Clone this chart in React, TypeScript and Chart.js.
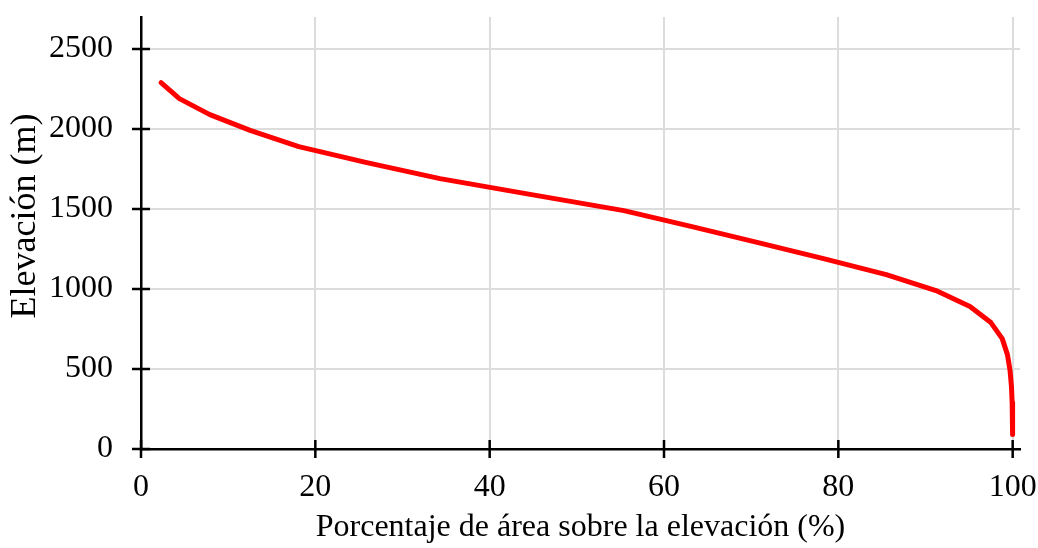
import React, { useEffect, useRef } from "react";
import { Chart, registerables } from "chart.js";

Chart.register(...registerables);

const areaPercent = [2.3, 4.4, 7.9, 12.6, 18.1, 25.9, 34.3, 44.8, 55.4, 63.2, 70.8, 78.3, 85.5, 91.2, 95.1, 97.5, 98.8, 99.4, 99.7, 99.86, 99.94, 99.98, 100];
const elevation = [2290, 2190, 2090, 1990, 1890, 1790, 1690, 1590, 1490, 1390, 1290, 1190, 1090, 990, 890, 790, 690, 590, 490, 390, 290, 190, 90];
const xTicks = [0, 20, 40, 60, 80, 100];
const yTicks = [0, 500, 1000, 1500, 2000, 2500];
const xTitle = "Porcentaje de área sobre la elevación (%)";
const yTitle = "Elevación (m)";

const FONT = "'Liberation Serif', 'Times New Roman', serif";

const crossTicks = {
  id: "crossTicks",
  afterDraw(chart: any) {
    const ctx = chart.ctx;
    const xs = chart.scales.x;
    const ys = chart.scales.y;
    const area = chart.chartArea;
    ctx.save();
    ctx.strokeStyle = "#000";
    ctx.lineWidth = 2.5;
    ctx.beginPath();
    xTicks.forEach((v) => {
      const px = xs.getPixelForValue(v);
      ctx.moveTo(px, area.bottom - 9);
      ctx.lineTo(px, area.bottom + 9);
    });
    yTicks.forEach((v) => {
      const py = ys.getPixelForValue(v);
      ctx.moveTo(area.left - 9, py);
      ctx.lineTo(area.left + 9, py);
    });
    ctx.stroke();
    // y axis title
    ctx.translate(26, 216);
    ctx.rotate(-Math.PI / 2);
    ctx.fillStyle = "#000";
    ctx.font = "36px " + FONT;
    ctx.textAlign = "center";
    ctx.textBaseline = "middle";
    ctx.fillText(yTitle, 0, 0);
    ctx.restore();
  },
};

export default function App() {
  const ref = useRef<HTMLCanvasElement>(null);
  useEffect(() => {
    if (!ref.current) return;
    const data = areaPercent.map((x, i) => ({ x, y: elevation[i] }));
    const chart = new Chart(ref.current, {
      type: "line",
      data: {
        datasets: [
          {
            data,
            borderColor: "#ff0000",
            backgroundColor: "#ff0000",
            borderWidth: 5,
            borderCapStyle: "round",
            borderJoinStyle: "round",
            pointRadius: 0,
            tension: 0,
            fill: false,
          },
        ],
      },
      options: {
        animation: false,
        responsive: false,
        maintainAspectRatio: false,
        layout: { padding: { top: 17, right: 18, left: 0, bottom: 0 } },
        plugins: { legend: { display: false }, tooltip: { enabled: false } },
        scales: {
          x: {
            type: "linear",
            min: 0,
            max: 100.84,
            afterBuildTicks: (s: any) => {
              s.ticks = xTicks.map((v) => ({ value: v }));
            },
            afterFit: (s: any) => {
              s.height = 99;
              s.paddingLeft = 0;
              s.paddingRight = 0;
              s.paddingTop = 0;
              s.paddingBottom = 0;
            },
            ticks: {
              color: "#000",
              font: { family: FONT, size: 32 },
              padding: 19,
              maxRotation: 0,
              callback: (v: any) => String(v),
            },
            grid: {
              color: (c: any) => (c.tick && c.tick.value === 0 ? "rgba(0,0,0,0)" : "#dcdcdc"),
              lineWidth: 2,
              drawTicks: false,
            },
            border: { color: "#000", width: 2.5 },
            title: {
              display: true,
              text: xTitle,
              color: "#000",
              font: { family: FONT, size: 32 },
              padding: { top: 0, bottom: 1 },
            },
          },
          y: {
            type: "linear",
            min: 0,
            max: 2700,
            afterBuildTicks: (s: any) => {
              s.ticks = yTicks.map((v) => ({ value: v }));
            },
            afterFit: (s: any) => {
              s.width = 141;
              s.paddingLeft = 0;
              s.paddingRight = 0;
              s.paddingTop = 0;
              s.paddingBottom = 0;
            },
            ticks: {
              color: "#000",
              font: { family: FONT, size: 32 },
              padding: 28,
              callback: (v: any) => String(v),
            },
            grid: {
              color: (c: any) => (c.tick && c.tick.value === 0 ? "rgba(0,0,0,0)" : "#dcdcdc"),
              lineWidth: 2,
              drawTicks: false,
            },
            border: { color: "#000", width: 2.5 },
            title: { display: false, text: yTitle },
          },
        },
      },
      plugins: [crossTicks],
    });
    return () => chart.destroy();
  }, []);
  return (
    <div style={{ position: "absolute", left: 0, top: 0, width: 1038, height: 548, background: "#fff" }}>
      <canvas ref={ref} width={1038} height={548} style={{ display: "block", width: 1038, height: 548 }} />
    </div>
  );
}
